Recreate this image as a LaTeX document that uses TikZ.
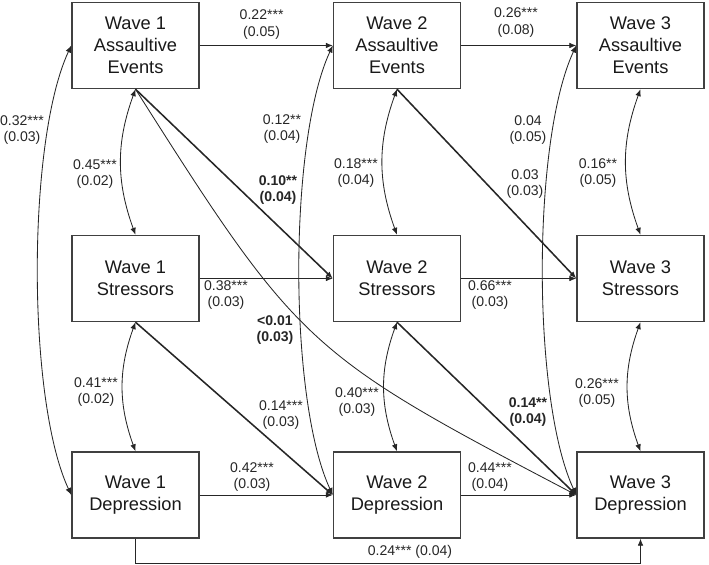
\documentclass[tikz,border=0pt]{standalone}
\usepackage{fontspec}
\setmainfont{Liberation Sans}
\usetikzlibrary{arrows.meta}

\begin{document}
\begin{tikzpicture}[>={Latex[length=5pt,width=4pt]},
  var/.style={draw=black!75, line width=1pt, minimum width=3.175cm, minimum height=2.15cm,
    inner sep=0pt, align=center, font=\fontsize{13}{15.6}\selectfont, text=black!90},
  coef/.style={align=center, inner sep=0pt, font=\fontsize{10}{12}\selectfont, text=black!85},
  path/.style={->, line width=0.6pt, black!85},
  cross/.style={->, line width=1.1pt, black!85},
  cov/.style={<->, line width=0.6pt, black!85}]
  \useasboundingbox (0,0) rectangle (17.725,14.125);

  % Boxes
  \node[var] (a1) at (3.3875,12.9875) {Wave 1\\Assaultive\\Events};
  \node[var] (a2) at (9.925,12.9875) {Wave 2\\Assaultive\\Events};
  \node[var] (a3) at (16.0125,12.9875) {Wave 3\\Assaultive\\Events};
  \node[var] (s1) at (3.3875,7.1625) {Wave 1\\Stressors};
  \node[var] (s2) at (9.925,7.1625) {Wave 2\\Stressors};
  \node[var] (s3) at (16.0125,7.1625) {Wave 3\\Stressors};
  \node[var] (d1) at (3.3875,1.75) {Wave 1\\Depression};
  \node[var] (d2) at (9.925,1.75) {Wave 2\\Depression};
  \node[var] (d3) at (16.0125,1.75) {Wave 3\\Depression};

  % stability paths
  \draw[path] (a1) -- (a2);
  \draw[path] (a2) -- (a3);
  \draw[path] (s1) -- (s2);
  \draw[path] (s2) -- (s3);
  \draw[path] (d1) -- (d2);
  \draw[path] (d2) -- (d3);
  \coordinate (low) at (0,0.05);
  \draw[path] (d1.south) -- (d1.south |- low) -| (d3.south);

  % cross-lagged paths
  \draw[cross] (a1.south) -- (s2.west);
  \draw[cross] (s1.south) -- (d2.west);
  \draw[cross] (a2.south) -- (s3.west);
  \draw[cross] (s2.south) -- (d3.west);
  \draw[path] (a1.south) to[bend right=15, looseness=1.3] (d3.west);

  % covariances
  \draw[cov] (a1.south) to[bend right=20] (s1.north);
  \draw[cov] (s1.south) to[bend right=20] (d1.north);
  \draw[cov] (a2.south) to[bend right=20] (s2.north);
  \draw[cov] (s2.south) to[bend right=20] (d2.north);
  \draw[cov] (a3.south) to[bend right=20] (s3.north);
  \draw[cov] (s3.south) to[bend right=20] (d3.north);
  \draw[cov] (a1.west) to[bend right=25, looseness=0.6] (d1.west);
  \draw[cov] (a2.west) to[bend right=25, looseness=0.6] (d2.west);
  \draw[cov] (a3.west) to[bend right=25, looseness=0.6] (d3.west);

  % estimates
  \node[coef] (ka12) at (6.54,13.51) {0.22***\\(0.05)};
  \node[coef] (ka23) at (12.9,13.57) {0.26***\\(0.08)};
  \node[coef] (ks12) at (5.65,6.75) {0.38***\\(0.03)};
  \node[coef] (ks23) at (12.25,6.75) {0.66***\\(0.03)};
  \node[coef] (kd12) at (6.3,2.2) {0.42***\\(0.03)};
  \node[coef] (kd23) at (12.25,2.2) {0.44***\\(0.04)};
  \node[coef] (kd13) at (10.25,0.325) {0.24*** (0.04)};
  \node[coef] (kas1) at (6.95,9.375) {\bfseries 0.10**\\\bfseries (0.04)};
  \node[coef] (ksd1) at (7.025,3.75) {0.14***\\(0.03)};
  \node[coef] (kas2) at (13.125,9.525) {0.03\\(0.03)};
  \node[coef] (ksd2) at (13.2,3.825) {\bfseries 0.14**\\\bfseries (0.04)};
  \node[coef] (kad) at (6.875,5.875) {\bfseries <0.01\\\bfseries (0.03)};
  \node[coef] (cas1) at (2.375,9.775) {0.45***\\(0.02)};
  \node[coef] (csd1) at (2.4,4.325) {0.41***\\(0.02)};
  \node[coef] (cas2) at (8.9,9.8) {0.18***\\(0.04)};
  \node[coef] (csd2) at (8.925,4.075) {0.40***\\(0.03)};
  \node[coef] (cas3) at (14.95,9.8) {0.16**\\(0.05)};
  \node[coef] (csd3) at (14.925,4.3) {0.26***\\(0.05)};
  \node[coef] (cad1) at (0.55,10.875) {0.32***\\(0.03)};
  \node[coef] (cad2) at (7.05,10.9) {0.12**\\(0.04)};
  \node[coef] (cad3) at (13.2,10.875) {0.04\\(0.05)};
\end{tikzpicture}
\end{document}
